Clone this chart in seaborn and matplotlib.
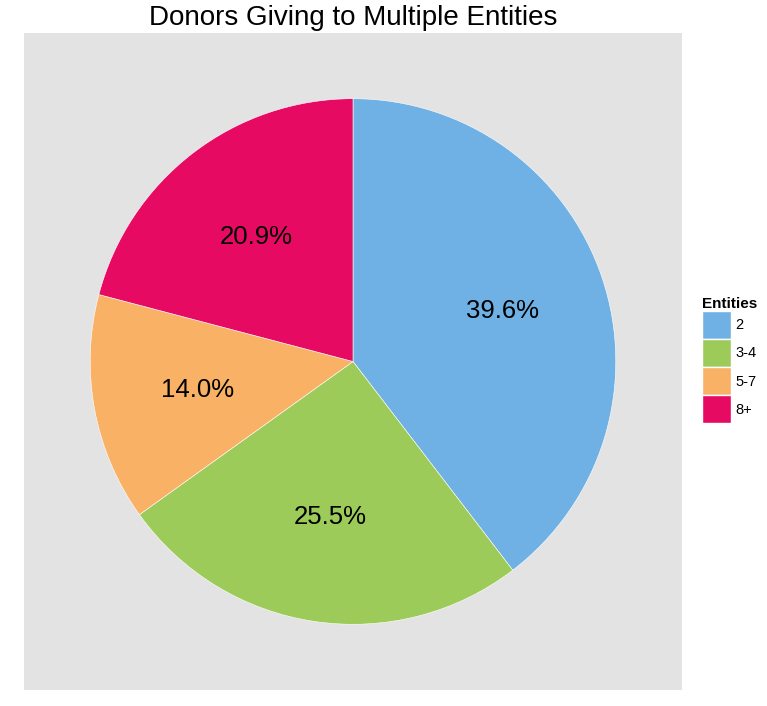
import matplotlib
matplotlib.use("Agg")
import matplotlib.pyplot as plt
import matplotlib.patches as mpatches
import seaborn as sns

# share of donors by number of entities given to
entities = ["2", "3-4", "5-7", "8+"]
shares = [39.6, 25.5, 14.0, 20.9]
colors = ["#6FB1E4", "#9DCB5A", "#F9B165", "#E60A62"]

sns.set_style("white")
plt.rcParams["font.family"] = ["Liberation Sans", "DejaVu Sans"]
plt.rcParams["text.color"] = "black"
pal = sns.color_palette(colors)

fig = plt.figure(figsize=(7.67, 7.06), dpi=100)
ax = fig.add_axes([24 / 767, 16 / 706, 658 / 767, 657 / 706])
ax.set_facecolor("#E3E3E3")

wedges, texts, autotexts = ax.pie(
    shares, colors=pal, startangle=90, counterclock=False, radius=1,
    autopct="%.1f%%", pctdistance=0.6, frame=True,
    wedgeprops=dict(edgecolor="white", linewidth=0.4),
    textprops=dict(fontsize=18.5, color="black"),
)
ax.set_xlim(-1.25, 1.25)
ax.set_ylim(-1.25, 1.25)
ax.set_aspect("equal")
for s in ax.spines.values():
    s.set_visible(False)
ax.set_xticks([])
ax.set_yticks([])

fig.text((24 + 658 / 2) / 767, 1 - 18 / 706, "Donors Giving to Multiple Entities",
         fontsize=20, ha="center", va="center", color="black")

handles = [mpatches.Patch(facecolor=c, edgecolor="white", linewidth=1) for c in pal]
leg = fig.legend(handles, entities, title="Entities", loc="center left",
                 bbox_to_anchor=(0.915, 0.49), frameon=False, fontsize=10.5,
                 handlelength=2.0, handleheight=2.6, labelspacing=0,
                 handletextpad=0.3, borderpad=0, borderaxespad=0)
leg.get_title().set_fontweight("bold")
leg.get_title().set_fontsize(11)
leg._legend_box.align = "left"
for t in leg.get_texts():
    t.set_color("black")

fig.savefig("out.png", dpi=100)
